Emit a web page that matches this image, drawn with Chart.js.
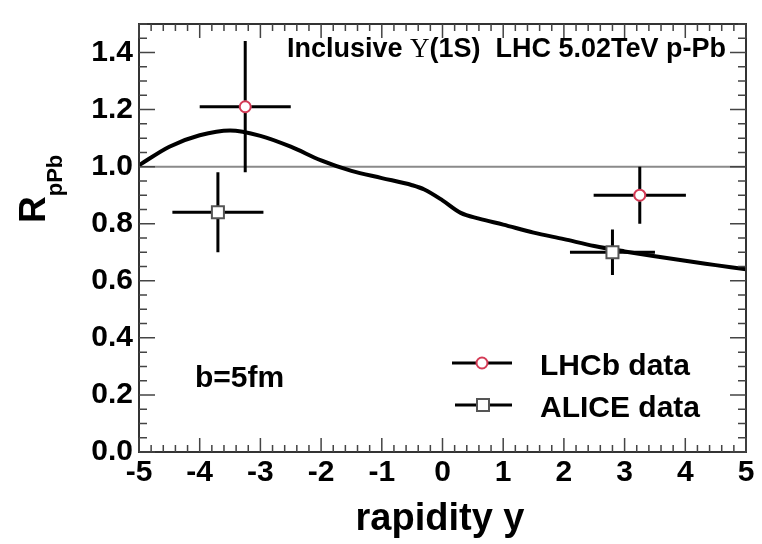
<!DOCTYPE html>
<html>
<head>
<meta charset="utf-8">
<script src="https://cdn.jsdelivr.net/npm/chart.js@4.4.1/dist/chart.umd.min.js"></script>
<style>
html,body{margin:0;padding:0;background:#fff;}
#wrap{width:762px;height:544px;position:relative;}
</style>
</head>
<body>
<div id="wrap"><canvas id="c" width="762" height="544"></canvas></div>
<script>
// ---- data ----
const curveX = [-5, -4.5, -4, -3.5, -3, -2.5, -2, -1.5, -1, -0.5, -0.3, 0, 0.3, 0.6, 1, 1.5, 2, 2.5, 3, 3.5, 4, 4.5, 5];
const curveY = [1.005, 1.070, 1.110, 1.127, 1.108, 1.070, 1.022, 0.985, 0.960, 0.935, 0.920, 0.882, 0.838, 0.818, 0.797, 0.769, 0.746, 0.722, 0.703, 0.686, 0.670, 0.655, 0.640];

const lhcbX = [-3.25, 3.25];
const lhcbY = [1.21, 0.90];
const lhcbXErr = [0.75, 0.76];
const lhcbYErr = [0.23, 0.10];

const aliceX = [-3.7, 2.8];
const aliceY = [0.84, 0.70];
const aliceXErr = [0.75, 0.70];
const aliceYErr = [0.14, 0.08];

const xTickValues = [-5, -4, -3, -2, -1, 0, 1, 2, 3, 4, 5];
const yTickValues = [0.0, 0.2, 0.4, 0.6, 0.8, 1.0, 1.2, 1.4];

const FONT = "'Liberation Sans', Arial, Helvetica, sans-serif";
const RED = '#d43a55';
const GRAY_SQ = '#555555';

function pts(xs, ys) { return xs.map((x, i) => ({x: x, y: ys[i]})); }

const errPlugin = {
  id: 'errs',
  beforeDatasetsDraw(chart) {
    const ctx = chart.ctx, xs = chart.scales.x, ys = chart.scales.y, a = chart.chartArea;
    ctx.save();
    ctx.strokeStyle = '#8a8a8a';
    ctx.lineWidth = 2;
    ctx.beginPath();
    ctx.moveTo(a.left, ys.getPixelForValue(1));
    ctx.lineTo(a.right, ys.getPixelForValue(1));
    ctx.stroke();
    ctx.strokeStyle = '#000';
    ctx.lineWidth = 3;
    function bars(X, Y, XE, YE, gap) {
      for (let i = 0; i < X.length; i++) {
        const px = xs.getPixelForValue(X[i]), py = ys.getPixelForValue(Y[i]);
        const xl = xs.getPixelForValue(X[i] - XE[i]), xr = xs.getPixelForValue(X[i] + XE[i]);
        const yt = ys.getPixelForValue(Y[i] + YE[i]), yb = ys.getPixelForValue(Y[i] - YE[i]);
        ctx.beginPath();
        ctx.moveTo(xl, py); ctx.lineTo(px - gap, py);
        ctx.moveTo(px + gap, py); ctx.lineTo(xr, py);
        ctx.moveTo(px, yt); ctx.lineTo(px, py - gap);
        ctx.moveTo(px, py + gap); ctx.lineTo(px, yb);
        ctx.stroke();
      }
    }
    bars(lhcbX, lhcbY, lhcbXErr, lhcbYErr, 6);
    bars(aliceX, aliceY, aliceXErr, aliceYErr, 6);
    ctx.restore();
  },
  afterDraw(chart) {
    const ctx = chart.ctx, xs = chart.scales.x, ys = chart.scales.y, a = chart.chartArea;
    ctx.save();
    ctx.strokeStyle = '#333';
    ctx.lineWidth = 2;
    ctx.strokeRect(a.left, a.top, a.right - a.left, a.bottom - a.top);
    ctx.lineWidth = 1.5;
    ctx.strokeStyle = '#444';
    ctx.beginPath();
    for (let v = -5; v <= 5.0001; v += 0.2) {
      const vv = Math.round(v * 10) / 10;
      const major = Math.abs(vv - Math.round(vv)) < 1e-6;
      const L = major ? 14 : 7;
      const px = xs.getPixelForValue(vv);
      ctx.moveTo(px, a.bottom); ctx.lineTo(px, a.bottom - L);
      ctx.moveTo(px, a.top); ctx.lineTo(px, a.top + L);
    }
    for (let v = 0; v <= 1.5001; v += 0.05) {
      const vv = Math.round(v * 100) / 100;
      const major = Math.abs(vv * 5 - Math.round(vv * 5)) < 1e-6;
      const L = major ? 16 : 8;
      const py = ys.getPixelForValue(vv);
      ctx.moveTo(a.left, py); ctx.lineTo(a.left + L, py);
      ctx.moveTo(a.right, py); ctx.lineTo(a.right - L, py);
    }
    ctx.stroke();

    ctx.fillStyle = '#000';
    ctx.textBaseline = 'alphabetic';
    ctx.font = 'bold 38px ' + FONT;
    ctx.textAlign = 'center';
    ctx.fillText('rapidity y', 440, 530);
    ctx.save();
    ctx.translate(45, 223);
    ctx.rotate(-Math.PI / 2);
    ctx.textAlign = 'left';
    ctx.font = 'bold 37px ' + FONT;
    ctx.fillText('R', 0, 0);
    const wR = ctx.measureText('R').width;
    ctx.font = 'bold 22px ' + FONT;
    ctx.fillText('pPb', wR, 17);
    ctx.restore();

    ctx.textAlign = 'left';
    let x0 = 287;
    const base = 57;
    ctx.font = 'bold 27px ' + FONT;
    ctx.fillText('Inclusive ', x0, base);
    x0 += ctx.measureText('Inclusive ').width;
    ctx.font = '27px "Liberation Serif", "Times New Roman", serif';
    ctx.fillText('\u03A5', x0, base);
    x0 += ctx.measureText('\u03A5').width;
    ctx.font = 'bold 27px ' + FONT;
    ctx.fillText('(1S)  LHC 5.02TeV p-Pb', x0, base);

    ctx.font = 'bold 30px ' + FONT;
    ctx.fillText('b=5fm', 195, 387);

    ctx.strokeStyle = '#000';
    ctx.lineWidth = 3;
    ctx.beginPath();
    ctx.moveTo(452, 363); ctx.lineTo(476, 363);
    ctx.moveTo(488, 363); ctx.lineTo(512, 363);
    ctx.stroke();
    ctx.lineWidth = 2;
    ctx.strokeStyle = RED;
    ctx.fillStyle = '#fff';
    ctx.beginPath(); ctx.arc(482, 363, 5.5, 0, Math.PI * 2); ctx.fill(); ctx.stroke();
    ctx.strokeStyle = '#000';
    ctx.lineWidth = 3;
    ctx.beginPath();
    ctx.moveTo(455, 405); ctx.lineTo(477, 405);
    ctx.moveTo(489, 405); ctx.lineTo(512, 405);
    ctx.stroke();
    ctx.lineWidth = 2;
    ctx.strokeStyle = GRAY_SQ;
    ctx.fillStyle = '#fff';
    ctx.fillRect(477, 399, 12, 12); ctx.strokeRect(477, 399, 12, 12);
    ctx.fillStyle = '#000';
    ctx.font = 'bold 30px ' + FONT;
    ctx.fillText('LHCb data', 540, 375);
    ctx.fillText('ALICE data', 540, 417);
    ctx.restore();
  }
};

new Chart(document.getElementById('c'), {
  type: 'scatter',
  data: {
    datasets: [
      {
        type: 'line',
        label: 'theory',
        data: pts(curveX, curveY),
        borderColor: '#000',
        borderWidth: 4,
        pointRadius: 0,
        fill: false,
        cubicInterpolationMode: 'monotone',
        order: 3
      },
      {
        label: 'LHCb data',
        data: pts(lhcbX, lhcbY),
        pointStyle: 'circle',
        pointRadius: 5.5,
        borderWidth: 2,
        borderColor: RED,
        backgroundColor: '#fff',
        order: 1
      },
      {
        label: 'ALICE data',
        data: pts(aliceX, aliceY),
        pointStyle: 'rect',
        pointRadius: 8.5,
        borderWidth: 2,
        borderColor: GRAY_SQ,
        backgroundColor: '#fff',
        order: 2
      }
    ]
  },
  options: {
    responsive: false,
    animation: false,
    devicePixelRatio: 1,
    layout: { padding: { top: 11, right: 16, left: 0, bottom: 0 } },
    plugins: { legend: { display: false }, tooltip: { enabled: false } },
    scales: {
      x: {
        type: 'linear', min: -5, max: 5,
        grid: { display: false, drawTicks: false },
        border: { display: false },
        afterBuildTicks(s) { s.ticks = xTickValues.map(v => ({value: v})); },
        afterFit(s) { s.height = 92; },
        ticks: {
          padding: 3,
          color: '#000',
          font: { family: FONT, size: 30, weight: 'bold' },
          maxRotation: 0,
          autoSkip: false,
          callback: v => String(v)
        }
      },
      y: {
        type: 'linear', min: 0, max: 1.5,
        grid: { display: false, drawTicks: false },
        border: { display: false },
        afterBuildTicks(s) { s.ticks = yTickValues.map(v => ({value: v})); },
        afterFit(s) { s.width = 139; },
        ticks: {
          padding: 6,
          color: '#000',
          font: { family: FONT, size: 30, weight: 'bold' },
          autoSkip: false,
          callback: v => Number(v).toFixed(1)
        }
      }
    }
  },
  plugins: [errPlugin]
});
</script>
</body>
</html>
